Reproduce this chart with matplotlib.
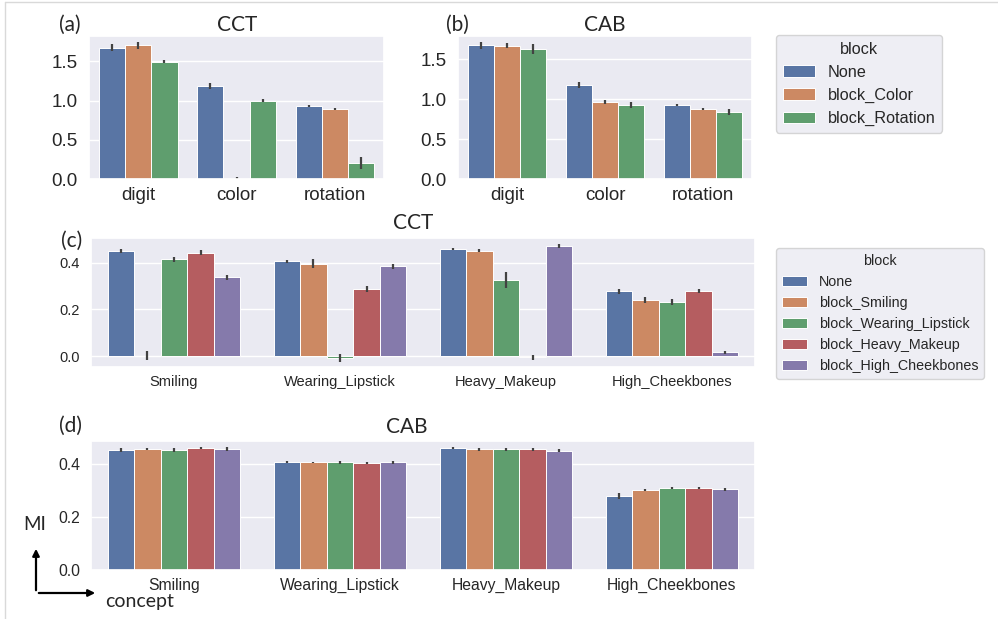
import numpy as np
import matplotlib
matplotlib.use("Agg")
import matplotlib.pyplot as plt
import seaborn as sns

# --- data ------------------------------------------------------------------
mnist_concepts = ["digit", "color", "rotation"]
mnist_blocks = ["None", "block_Color", "block_Rotation"]

cct_mnist = [[1.674, 1.182, 0.932],   # None
             [1.703, 0.004, 0.894],   # block_Color
             [1.496, 0.996, 0.203]]   # block_Rotation
cct_mnist_err = [[0.045, 0.040, 0.015],
                 [0.045, 0.020, 0.015],
                 [0.020, 0.020, 0.080]]

cab_mnist = [[1.675, 1.175, 0.929],
             [1.667, 0.963, 0.875],
             [1.629, 0.929, 0.842]]
cab_mnist_err = [[0.045, 0.040, 0.015],
                 [0.030, 0.030, 0.015],
                 [0.060, 0.040, 0.035]]

celeb_concepts = ["Smiling", "Wearing_Lipstick", "Heavy_Makeup", "High_Cheekbones"]
celeb_blocks = ["None", "block_Smiling", "block_Wearing_Lipstick",
                "block_Heavy_Makeup", "block_High_Cheekbones"]

cct_celeb = [[0.450, 0.407, 0.460, 0.279],
             [0.001, 0.397, 0.453, 0.241],
             [0.416, -0.010, 0.327, 0.233],
             [0.443, 0.289, -0.005, 0.281],
             [0.339, 0.386, 0.473, 0.016]]
cct_celeb_err = [[0.009, 0.007, 0.006, 0.011],
                 [0.020, 0.019, 0.008, 0.012],
                 [0.011, 0.017, 0.036, 0.014],
                 [0.011, 0.012, 0.010, 0.009],
                 [0.011, 0.011, 0.010, 0.007]]

cab_celeb = [[0.452, 0.408, 0.460, 0.279],
             [0.458, 0.406, 0.455, 0.303],
             [0.454, 0.406, 0.455, 0.309],
             [0.460, 0.404, 0.455, 0.309],
             [0.457, 0.406, 0.450, 0.304]]
cab_celeb_err = [[0.007, 0.005, 0.005, 0.010],
                 [0.004, 0.003, 0.005, 0.004],
                 [0.007, 0.005, 0.006, 0.004],
                 [0.004, 0.003, 0.004, 0.004],
                 [0.006, 0.005, 0.006, 0.004]]

mnist_yticks = [0.0, 0.5, 1.0, 1.5]
celeb_yticks = [0.0, 0.2, 0.4]

# --- style ------------------------------------------------------------------
sns.set_theme(style="darkgrid")
plt.rcParams["font.family"] = ["Liberation Sans", "DejaVu Sans"]
colors = sns.color_palette("deep", 5, desat=0.75)
label_font = ["Lato", "DejaVu Sans"]

W, H = 998, 619
fig = plt.figure(figsize=(W / 100, H / 100), dpi=100)


def px_axes(left, top, right, bottom):
    return fig.add_axes([left / W, 1 - bottom / H, (right - left) / W, (bottom - top) / H])


def bars(ax, concepts, values, errs, yticks, fs):
    n = len(values)
    w = 0.8 / n
    x = np.arange(len(concepts))
    handles = []
    for i in range(n):
        pos = x + (i - (n - 1) / 2) * w
        h = ax.bar(pos, values[i], width=w, color=colors[i],
                   edgecolor="white", linewidth=0.7)
        ax.errorbar(pos, values[i], yerr=errs[i], fmt="none",
                    ecolor=".26", elinewidth=1.6, capsize=0)
        handles.append(h)
    ax.set_xticks(x)
    ax.set_xticklabels(concepts)
    ax.set_xlim(-0.5, len(concepts) - 0.5)
    ax.set_yticks(yticks)
    ax.set_yticklabels(["%.1f" % t for t in yticks])
    ax.grid(False, axis="x")
    ax.tick_params(axis="x", labelsize=fs, pad=0)
    ax.tick_params(axis="y", labelsize=fs, pad=2)
    return handles


ax_a = px_axes(89, 36, 384, 179)
h_a = bars(ax_a, mnist_concepts, cct_mnist, cct_mnist_err, mnist_yticks, 13.5)
ax_a.set_ylim(0, 1.823)
ax_b = px_axes(458, 36, 752, 179)
bars(ax_b, mnist_concepts, cab_mnist, cab_mnist_err, mnist_yticks, 13.5)
ax_b.set_ylim(0, 1.79)

ax_c = px_axes(91, 238, 755, 367)
h_c = bars(ax_c, celeb_concepts, cct_celeb, cct_celeb_err, celeb_yticks, 10.5)
ax_c.set_ylim(-0.047, 0.507)

ax_d = px_axes(91, 441, 755, 570)
bars(ax_d, celeb_concepts, cab_celeb, cab_celeb_err, celeb_yticks, 11.3)
ax_d.set_ylim(0, 0.487)

# legends
fig.legend(h_a, mnist_blocks, title="block", loc="upper left",
           bbox_to_anchor=(776 / W, 1 - 35 / H), fontsize=11.7,
           title_fontsize=11.7, borderaxespad=0)
fig.legend(h_c, celeb_blocks, title="block", loc="upper left",
           bbox_to_anchor=(776 / W, 1 - 248 / H), fontsize=10.3,
           title_fontsize=10.3, borderaxespad=0, handlelength=1.8)


# panel labels and titles
def ftext(x, y, s, size=15):
    fig.text(x / W, 1 - y / H, s, ha="center", va="center",
             fontsize=size, family=label_font)


ftext(70, 25, "(a)")
ftext(237, 25, "CCT")
ftext(457, 25, "(b)")
ftext(605, 25, "CAB")
ftext(72, 241, "(c)")
ftext(413, 223, "CCT")
ftext(70, 426, "(d)")
ftext(407, 427, "CAB")
ftext(35, 525, "MI", 13.5)
ftext(140, 602, "concept", 14)

# MI / concept arrows
fig.add_artist(matplotlib.patches.FancyArrowPatch(
    (36 / W, 1 - 593 / H), (36 / W, 1 - 546 / H), transform=fig.transFigure,
    arrowstyle="-|>", mutation_scale=10, color="black", lw=1.6))
fig.add_artist(matplotlib.patches.FancyArrowPatch(
    (36 / W, 1 - 593 / H), (98 / W, 1 - 593 / H), transform=fig.transFigure,
    arrowstyle="-|>", mutation_scale=10, color="black", lw=1.6))

# thin outer frame (top and left)
fig.add_artist(matplotlib.lines.Line2D([5 / W, 1], [1 - 2 / H, 1 - 2 / H],
                                       transform=fig.transFigure, color="#d9d9d9", lw=1))
fig.add_artist(matplotlib.lines.Line2D([5 / W, 5 / W], [0, 1 - 2 / H],
                                       transform=fig.transFigure, color="#d9d9d9", lw=1))

fig.savefig("out.png", dpi=100)
